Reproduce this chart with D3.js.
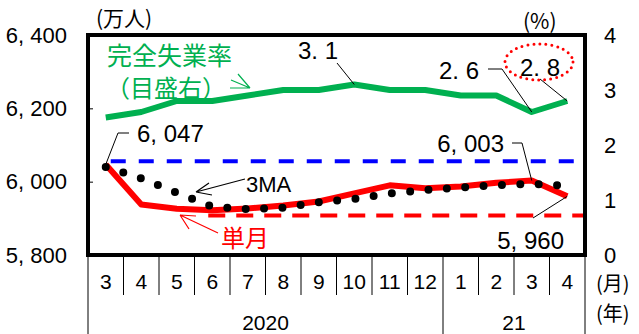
<!DOCTYPE html>
<html>
<head>
<meta charset="utf-8">
<script src="https://cdn.jsdelivr.net/npm/d3@7"></script>
<style>
  body { margin: 0; background: #fff; }
  svg { display: block; }
  .num { font-family: "Liberation Sans", Arial, sans-serif; }
  .jp { font-family: "Noto Sans CJK JP", sans-serif; }
</style>
</head>
<body>
<script>
// ---- data ----
const monthLabels = ["3", "4", "5", "6", "7", "8", "9", "10", "11", "12", "1", "2", "3", "4"];
const yearLabels = ["2020", "21"];
const yearStarts = [0, 10];           // first month index of each year
const employed = [6047, 5938, 5926, 5922, 5927, 5935, 5946, 5968, 5990, 5982, 5987, 5997, 6003, 5960];   // 単月 (万人)
const employed3MA = [6040, 6009, 5970, 5932, 5925, 5929, 5944, 5953, 5968, 5977, 5984, 5990, 5994, 5989];
const preLevel = [6056, 6056];        // blue dashed, Mar-2020 .. Apr-2021
const lowLevel = [5908, 5908];        // red dashed, Jun-2020 .. end
const unempRate = [2.5, 2.6, 2.8, 2.8, 2.9, 3.0, 3.0, 3.1, 3.0, 3.0, 2.9, 2.9, 2.6, 2.8];   // % (right axis)
const leftTicks = [5800, 6000, 6200, 6400];
const rightTicks = [0, 1, 2, 3, 4];

// ---- layout ----
const width = 639, height = 334;
const plot = { left: 88, right: 585, top: 35, bottom: 255 };
const green = "#00B050", red = "#FF0000", blue = "#0000FF";

const svg = d3.select("body").append("svg")
  .attr("width", width).attr("height", height);

const x = d3.scaleBand().domain(d3.range(monthLabels.length)).range([plot.left, plot.right]);
const xc = i => x(i) + x.bandwidth() / 2;
const yL = d3.scaleLinear().domain([5800, 6400]).range([plot.bottom, plot.top]);
const yR = d3.scaleLinear().domain([0, 4]).range([plot.bottom, plot.top]);

const fmt = d => d3.format(",")(d).replace(",", ", ");
const fmtPct = d => d3.format(".1f")(d).replace(".", ". ");

// left axis (ticks inward)
const gL = svg.append("g").attr("class", "num")
  .attr("transform", `translate(${plot.left},0)`)
  .call(d3.axisLeft(yL).tickValues(leftTicks).tickSizeInner(-5).tickSizeOuter(0)
    .tickPadding(21).tickFormat(fmt));
gL.select(".domain").remove();
gL.selectAll("text").attr("font-size", 22).attr("fill", "#000").attr("font-family", "Liberation Sans, Arial, sans-serif");
gL.selectAll("line").attr("stroke", "#000");

// right axis
const gR = svg.append("g").attr("class", "num")
  .attr("transform", `translate(${plot.right},0)`)
  .call(d3.axisRight(yR).tickValues(rightTicks).tickSize(0).tickPadding(25)
    .tickFormat(d3.format("d")));
gR.select(".domain").remove();
gR.selectAll("text").attr("font-size", 22).attr("fill", "#000")
  .attr("text-anchor", "middle").attr("font-family", "Liberation Sans, Arial, sans-serif");

// unit labels
svg.append("text").attr("class", "jp").attr("x", 96).attr("y", 26)
  .attr("font-size", 21).text("(万人)");
svg.append("text").attr("class", "jp").attr("x", 523).attr("y", 29)
  .attr("font-size", 21).text("(%)");

// category axis below the frame
const catG = svg.append("g");
d3.range(monthLabels.length + 1).forEach(i => {
  const xx = i < monthLabels.length ? x(i) : plot.right;
  const full = i === 0 || i === monthLabels.length || yearStarts.includes(i);
  catG.append("line")
    .attr("x1", xx).attr("x2", xx)
    .attr("y1", plot.bottom).attr("y2", full ? height : 295)
    .attr("stroke", "#000").attr("stroke-width", 1);
});
catG.selectAll("text.month").data(monthLabels).join("text")
  .attr("class", "month num")
  .attr("x", (d, i) => xc(i)).attr("y", 289)
  .attr("text-anchor", "middle").attr("font-size", 21)
  .text(d => d);
yearLabels.forEach((lab, k) => {
  const s = yearStarts[k];
  const e = k + 1 < yearStarts.length ? yearStarts[k + 1] : monthLabels.length;
  const mid = (x(s) + (e < monthLabels.length ? x(e) : plot.right)) / 2;
  catG.append("text").attr("class", "num")
    .attr("x", mid).attr("y", 330).attr("text-anchor", "middle")
    .attr("font-size", 21).text(lab);
});
svg.append("text").attr("class", "jp").attr("x", 596).attr("y", 291).attr("font-size", 20).text("(月)");
svg.append("text").attr("class", "jp").attr("x", 596).attr("y", 321).attr("font-size", 20).text("(年)");

// ---- series ----
const lineL = d3.line().x((d, i) => xc(i)).y(d => yL(d));

// blue dashed reference
svg.append("line")
  .attr("x1", xc(0)).attr("x2", xc(monthLabels.length - 1) + 8)
  .attr("y1", yL(preLevel[0])).attr("y2", yL(preLevel[1]))
  .attr("stroke", blue).attr("stroke-width", 4).attr("stroke-dasharray", "15 13")
  .attr("stroke-dashoffset", -5);

// red dashed reference
svg.append("line")
  .attr("x1", xc(3) - 4).attr("x2", plot.right)
  .attr("y1", yL(lowLevel[0])).attr("y2", yL(lowLevel[1]))
  .attr("stroke", red).attr("stroke-width", 4).attr("stroke-dasharray", "17 11");

// 単月 solid red
svg.append("path").datum(employed)
  .attr("d", lineL).attr("fill", "none")
  .attr("stroke", red).attr("stroke-width", 6).attr("stroke-linejoin", "round");

// 3MA dotted
svg.append("path").datum(employed3MA)
  .attr("d", lineL).attr("fill", "none")
  .attr("stroke", "#000").attr("stroke-width", 8)
  .attr("stroke-linecap", "round").attr("stroke-dasharray", "0 18.4");

// unemployment rate (right axis)
svg.append("path").datum(unempRate)
  .attr("d", d3.line().x((d, i) => xc(i)).y(d => yR(d)))
  .attr("fill", "none").attr("stroke", green).attr("stroke-width", 6)
  .attr("stroke-linejoin", "round");

// frame
svg.append("rect")
  .attr("x", plot.left).attr("y", plot.top)
  .attr("width", plot.right - plot.left).attr("height", plot.bottom - plot.top)
  .attr("fill", "none").attr("stroke", "#000").attr("stroke-width", 4);

// ---- annotations ----
const leader = pts => svg.append("path")
  .attr("d", d3.line()(pts)).attr("fill", "none")
  .attr("stroke", "#000").attr("stroke-width", 1);
const label = (t, xx, yy, anchor) => svg.append("text").attr("class", "num")
  .attr("x", xx).attr("y", yy).attr("text-anchor", anchor || "start")
  .attr("font-size", 24).text(t);

const last = monthLabels.length - 1;

// 6,047
leader([[xc(0), yL(employed[0])], [118, 133], [129, 133]]);
label(fmt(employed[0]), 137, 142);

// 6,003
leader([[xc(12), yL(employed[12])], [522, 143], [512, 143]]);
label(fmt(employed[12]), 504, 152, "end");

// 5,960
leader([[xc(last), yL(employed[last])], [533, 218]]);
label(fmt(employed[last]), 564, 249, "end");

// 3.1
leader([[xc(7), yR(unempRate[7])], [337, 63]]);
label(fmtPct(unempRate[7]), 298, 59);

// 2.6
leader([[xc(12), yR(unempRate[12])], [502, 69], [488, 69]]);
label(fmtPct(unempRate[12]), 479, 79, "end");

// 2.8 with red dotted ellipse
leader([[xc(last), yR(unempRate[last])], [540, 79]]);
label(fmtPct(unempRate[last]), 520, 76);
svg.append("ellipse").attr("cx", 539).attr("cy", 62).attr("rx", 34).attr("ry", 18)
  .attr("fill", "none").attr("stroke", red).attr("stroke-width", 3)
  .attr("stroke-linecap", "round").attr("stroke-dasharray", "0 6");

// 完全失業率 (目盛右)
svg.append("text").attr("class", "jp").attr("x", 107).attr("y", 65)
  .attr("font-size", 25).attr("fill", green).text("完全失業率");
svg.append("text").attr("class", "jp").attr("x", 106).attr("y", 97)
  .attr("font-size", 24).attr("fill", green).text("（目盛右）");
svg.append("path")
  .attr("d", "M230,88 L250,88 M250,88 L238,74 M250,88 L231,80")
  .attr("fill", "none").attr("stroke", green).attr("stroke-width", 1.2);

// 3MA
svg.append("text").attr("class", "num").attr("x", 246).attr("y", 192)
  .attr("font-size", 22).text("3MA");
svg.append("path")
  .attr("d", "M245,179 L196,192 M196,192 L209,183 M196,192 L212,195")
  .attr("fill", "none").attr("stroke", "#000").attr("stroke-width", 1.2);

// 単月
svg.append("text").attr("class", "jp").attr("x", 221).attr("y", 247)
  .attr("font-size", 24).attr("fill", red).text("単月");
svg.append("path")
  .attr("d", "M218,233 L180,215 M180,215 L196,216 M180,215 L189,229")
  .attr("fill", "none").attr("stroke", red).attr("stroke-width", 1.2);
</script>
</body>
</html>
